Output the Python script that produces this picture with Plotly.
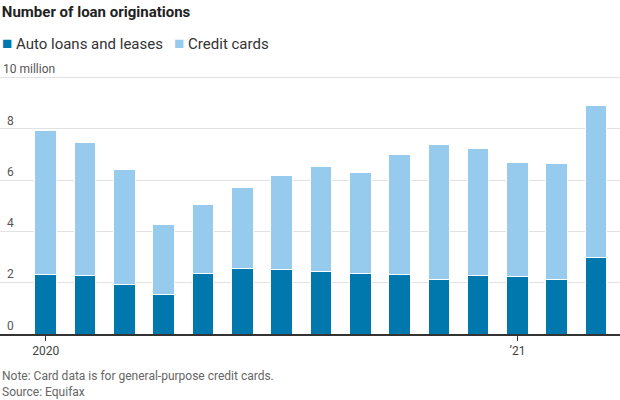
import plotly.graph_objects as go

# Monthly loan originations, millions
months = ["2020-01", "2020-02", "2020-03", "2020-04", "2020-05", "2020-06",
          "2020-07", "2020-08", "2020-09", "2020-10", "2020-11", "2020-12",
          "2021-01", "2021-02", "2021-03"]
auto = [2.33, 2.29, 1.94, 1.55, 2.36, 2.55, 2.51, 2.43, 2.35, 2.31, 2.12, 2.27, 2.23, 2.12, 2.97]
total = [7.95, 7.48, 6.43, 4.25, 5.06, 5.69, 6.19, 6.51, 6.31, 7.01, 7.40, 7.21, 6.70, 6.66, 8.92]
credit = [t - a for t, a in zip(total, auto)]

y_ticks = [0, 2, 4, 6, 8, 10]
y_text = ["0", "2", "4", "6", "8", ""]
top_label = "10 million"

AUTO_COLOR = "#0077ad"
CARD_COLOR = "#97cbee"
font_family = "Roboto, Liberation Sans, sans-serif"

fig = go.Figure()
fig.add_trace(go.Bar(x=months, y=auto, name="Auto loans and leases",
                     marker=dict(color=AUTO_COLOR, line=dict(color="white", width=1))))
fig.add_trace(go.Bar(x=months, y=credit, name="Credit cards",
                     marker=dict(color=CARD_COLOR, line=dict(color="white", width=1))))

fig.update_layout(
    barmode="stack",
    bargap=0.45,
    width=620, height=400,
    margin=dict(l=0, r=0, t=62, b=66, autoexpand=False),
    plot_bgcolor="white", paper_bgcolor="white",
    font=dict(family=font_family, color="#333333"),
    title=dict(text="<b>Number of loan originations</b>", x=0.003, xanchor="left",
               yref="container", y=0.985, yanchor="top",
               font=dict(size=15, color="#222222")),
    showlegend=False,
)

# legend drawn as a text line
fig.add_annotation(
    text=(f"<span style='color:{AUTO_COLOR};font-size:17px'>■</span> Auto loans and leases"
          f"&nbsp;&nbsp;&nbsp;<span style='color:{CARD_COLOR};font-size:17px'>■</span> Credit cards"),
    xref="paper", yref="paper", x=0.0, y=1.07, xanchor="left", yanchor="middle",
    showarrow=False, font=dict(size=15, color="#333333"))

# top tick label with its unit
fig.add_annotation(text=top_label, xref="paper", yref="y", x=0.0, y=y_ticks[-1],
                   xanchor="left", yanchor="bottom", xshift=1, yshift=-1,
                   showarrow=False, font=dict(size=12, color="#555555"))

fig.update_xaxes(
    type="category",
    range=[-1.165, 14.61],
    tickvals=["2020-01", "2021-01"],
    ticktext=["2020", "\u201921"],
    ticks="outside", ticklen=5, tickcolor="#333333",
    showline=True, linecolor="#333333", linewidth=1.5,
    showgrid=False,
    tickfont=dict(size=12, color="#444444"),
)
fig.update_yaxes(
    range=[0, 10.6],
    tickvals=y_ticks, ticktext=y_text,
    ticklabelposition="inside top",
    ticklabelstandoff=4,
    showgrid=True, gridcolor="#e2e2e2", gridwidth=1,
    zeroline=False, showline=False, ticks="",
    tickfont=dict(size=12, color="#555555"),
)

fig.add_annotation(text="Note: Card data is for general-purpose credit cards.<br>Source: Equifax",
                   xref="paper", yref="paper", x=0.0, y=-0.121, xanchor="left", yanchor="top",
                   showarrow=False, align="left",
                   font=dict(size=12, color="#666666"))

fig.write_html("out.html", config={"displayModeBar": False},
               post_script="document.body.style.margin='0';")
